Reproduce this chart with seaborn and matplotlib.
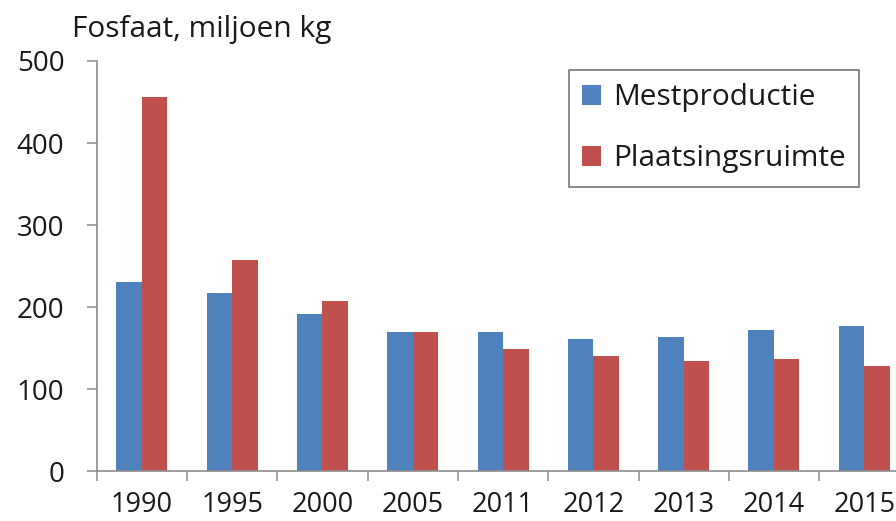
import matplotlib
matplotlib.use("Agg")
import matplotlib.pyplot as plt
from matplotlib.ticker import FixedLocator
import numpy as np
import pandas as pd
import seaborn as sns

# Phosphate figures (million kg) per year
years = ["1990", "1995", "2000", "2005", "2011", "2012", "2013", "2014", "2015"]
mestproductie = [230, 217, 192, 169, 169, 161, 163, 172, 177]
plaatsingsruimte = [456, 257, 207, 169, 149, 140, 134, 137, 128]
series_names = ["Mestproductie", "Plaatsingsruimte"]
series_colors = ["#4F81BD", "#C0504D"]

df = pd.DataFrame({
    "jaar": years * 2,
    "fosfaat": mestproductie + plaatsingsruimte,
    "reeks": [series_names[0]] * len(years) + [series_names[1]] * len(years),
})

sns.set_theme(style="white")
plt.rcParams["font.family"] = ["Open Sans", "DejaVu Sans"]
text_color = "#1a1a1a"
axis_gray = "#8c8c8c"

W, H = 896, 521
fig = plt.figure(figsize=(W / 100, H / 100), dpi=100)
# axes span from the y-axis line to beyond the right edge (last group clipped)
x0, x1 = 96.7, 909.4
y0, y1 = 471, 61
ax = fig.add_axes([x0 / W, 1 - y0 / H, (x1 - x0) / W, (y0 - y1) / H])

sns.barplot(data=df, x="jaar", y="fosfaat", hue="reeks", hue_order=series_names,
            palette=series_colors, width=0.565, gap=0, saturation=1,
            edgecolor="none", linewidth=0, ax=ax)

ax.set_xlim(-0.5, len(years) - 0.5)
ax.set_ylim(0, 500)
ax.set_yticks(np.arange(0, 501, 100))
ax.set_xlabel("")
ax.set_ylabel("")

for s in ["top", "right"]:
    ax.spines[s].set_visible(False)
for s in ["left", "bottom"]:
    ax.spines[s].set_color(axis_gray)
    ax.spines[s].set_linewidth(1.2)
ax.spines["bottom"].set_zorder(5)

ax.tick_params(axis="y", which="major", length=7.2, width=1.1, color=axis_gray,
               direction="out", left=True, pad=16, labelsize=20, labelcolor=text_color)
ax.tick_params(axis="x", which="major", length=0, pad=14.5, labelsize=19.5,
               labelcolor=text_color)
# category boundary ticks on the x axis
ax.xaxis.set_minor_locator(FixedLocator(np.arange(-0.5, len(years), 1.0)))
ax.tick_params(axis="x", which="minor", length=7.2, width=1.1, color=axis_gray,
               direction="out", bottom=True)

# legend in a framed box
handles, labels = ax.get_legend_handles_labels()
ax.get_legend().remove()
leg = fig.legend(handles, labels, loc="upper left",
                 bbox_to_anchor=(569 / W, 1 - 70 / H), bbox_transform=fig.transFigure,
                 fontsize=21.5, frameon=True, fancybox=False, borderaxespad=0,
                 handlelength=0.62, handleheight=0.62, handletextpad=0.4,
                 labelspacing=1.07, borderpad=0.45)
leg.get_frame().set_edgecolor("#555555")
leg.get_frame().set_linewidth(1.2)
for t in leg.get_texts():
    t.set_color(text_color)

fig.text(72 / W, 1 - 30 / H, "Fosfaat, miljoen kg", fontsize=21.5, color=text_color,
         ha="left", va="center")

fig.savefig("out.png", dpi=100, facecolor="white")
